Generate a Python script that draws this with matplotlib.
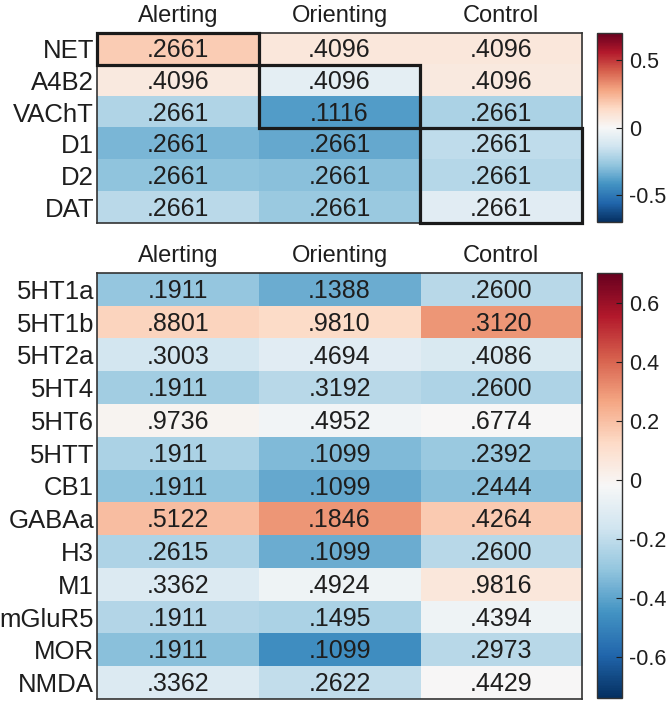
import numpy as np
import matplotlib
matplotlib.use("Agg")
from matplotlib import pyplot as plt
from matplotlib.patches import Rectangle

plt.rcParams['font.family'] = ['Liberation Sans', 'DejaVu Sans']

# columns shared by both panels
networks = ["Alerting", "Orienting", "Control"]

# upper panel: colour = correlation, text = p value
top_rows = ["NET", "A4B2", "VAChT", "D1", "D2", "DAT"]
top_r = [
    [0.18, 0.08, 0.08],
    [0.07, -0.07, 0.07],
    [-0.21, -0.39, -0.22],
    [-0.32, -0.36, -0.18],
    [-0.28, -0.29, -0.20],
    [-0.19, -0.26, -0.08],
]
top_p = [
    [".2661", ".4096", ".4096"],
    [".4096", ".4096", ".4096"],
    [".2661", ".1116", ".2661"],
    [".2661", ".2661", ".2661"],
    [".2661", ".2661", ".2661"],
    [".2661", ".2661", ".2661"],
]
# highlighted blocks: (first row, last row, column)
top_boxes = [(0, 0, 0), (1, 2, 1), (3, 5, 2)]

# lower panel
bot_rows = ["5HT1a", "5HT1b", "5HT2a", "5HT4", "5HT6", "5HTT", "CB1",
            "GABAa", "H3", "M1", "mGluR5", "MOR", "NMDA"]
bot_r = [
    [-0.30, -0.38, -0.22],
    [0.14, 0.12, 0.30],
    [-0.15, -0.10, -0.13],
    [-0.27, -0.22, -0.24],
    [0.00, -0.04, -0.02],
    [-0.25, -0.34, -0.29],
    [-0.31, -0.39, -0.32],
    [0.20, 0.30, 0.17],
    [-0.24, -0.38, -0.22],
    [-0.12, -0.05, 0.06],
    [-0.23, -0.25, -0.05],
    [-0.32, -0.47, -0.22],
    [-0.12, -0.20, -0.02],
]
bot_p = [
    [".1911", ".1388", ".2600"],
    [".8801", ".9810", ".3120"],
    [".3003", ".4694", ".4086"],
    [".1911", ".3192", ".2600"],
    [".9736", ".4952", ".6774"],
    [".1911", ".1099", ".2392"],
    [".1911", ".1099", ".2444"],
    [".5122", ".1846", ".4264"],
    [".2615", ".1099", ".2600"],
    [".3362", ".4924", ".9816"],
    [".1911", ".1495", ".4394"],
    [".1911", ".1099", ".2973"],
    [".3362", ".2622", ".4429"],
]

txt_col = "#1e1e1e"

fig = plt.figure(figsize=(6.69, 7.02), dpi=100)


def draw_panel(rect, cbrect, vals, texts, rows, vmin, vmax, cticks, boxes=()):
    ax = fig.add_axes(rect)
    im = ax.imshow(np.array(vals), cmap="RdBu_r", vmin=vmin, vmax=vmax,
                   aspect="auto", interpolation="nearest")
    for i in range(len(rows)):
        for j in range(len(networks)):
            ax.text(j, i + 0.05, texts[i][j], ha="center", va="center",
                    fontsize=18, color=txt_col)
    ax.set_xticks(range(len(networks)))
    ax.set_xticklabels(networks, fontsize=17, color=txt_col)
    ax.set_yticks(range(len(rows)))
    ax.set_yticklabels(rows, fontsize=18.5, color=txt_col)
    ax.xaxis.tick_top()
    ax.tick_params(axis="x", length=0, pad=4)
    ax.tick_params(axis="y", length=0, pad=2)
    for s in ax.spines.values():
        s.set_color("#333333")
        s.set_linewidth(1.2)
    for r0, r1, c in boxes:
        ax.add_patch(Rectangle((c - 0.5, r0 - 0.5), 1, r1 - r0 + 1, fill=False,
                               edgecolor="#1a1a1a", linewidth=2.3,
                               clip_on=False, zorder=5))
    cax = fig.add_axes(cbrect)
    cb = fig.colorbar(im, cax=cax)
    cb.set_ticks(cticks)
    cb.set_ticklabels(["%g" % t for t in cticks])
    cb.ax.tick_params(labelsize=15.5, colors=txt_col, direction="in",
                      length=4, width=0.8, pad=5)
    cb.outline.set_edgecolor("#333333")
    cb.outline.set_linewidth(1.0)
    return ax


draw_panel([0.145, 0.6823, 0.725, 0.2707], [0.8924, 0.6837, 0.0374, 0.2693],
           top_r, top_p, top_rows, -0.70, 0.70, [-0.5, 0, 0.5], top_boxes)
draw_panel([0.145, 0.0043, 0.725, 0.6068], [0.8924, 0.0057, 0.0374, 0.6054],
           bot_r, bot_p, bot_rows, -0.74, 0.70,
           [-0.6, -0.4, -0.2, 0, 0.2, 0.4, 0.6])

plt.savefig("out.png", dpi=100)
